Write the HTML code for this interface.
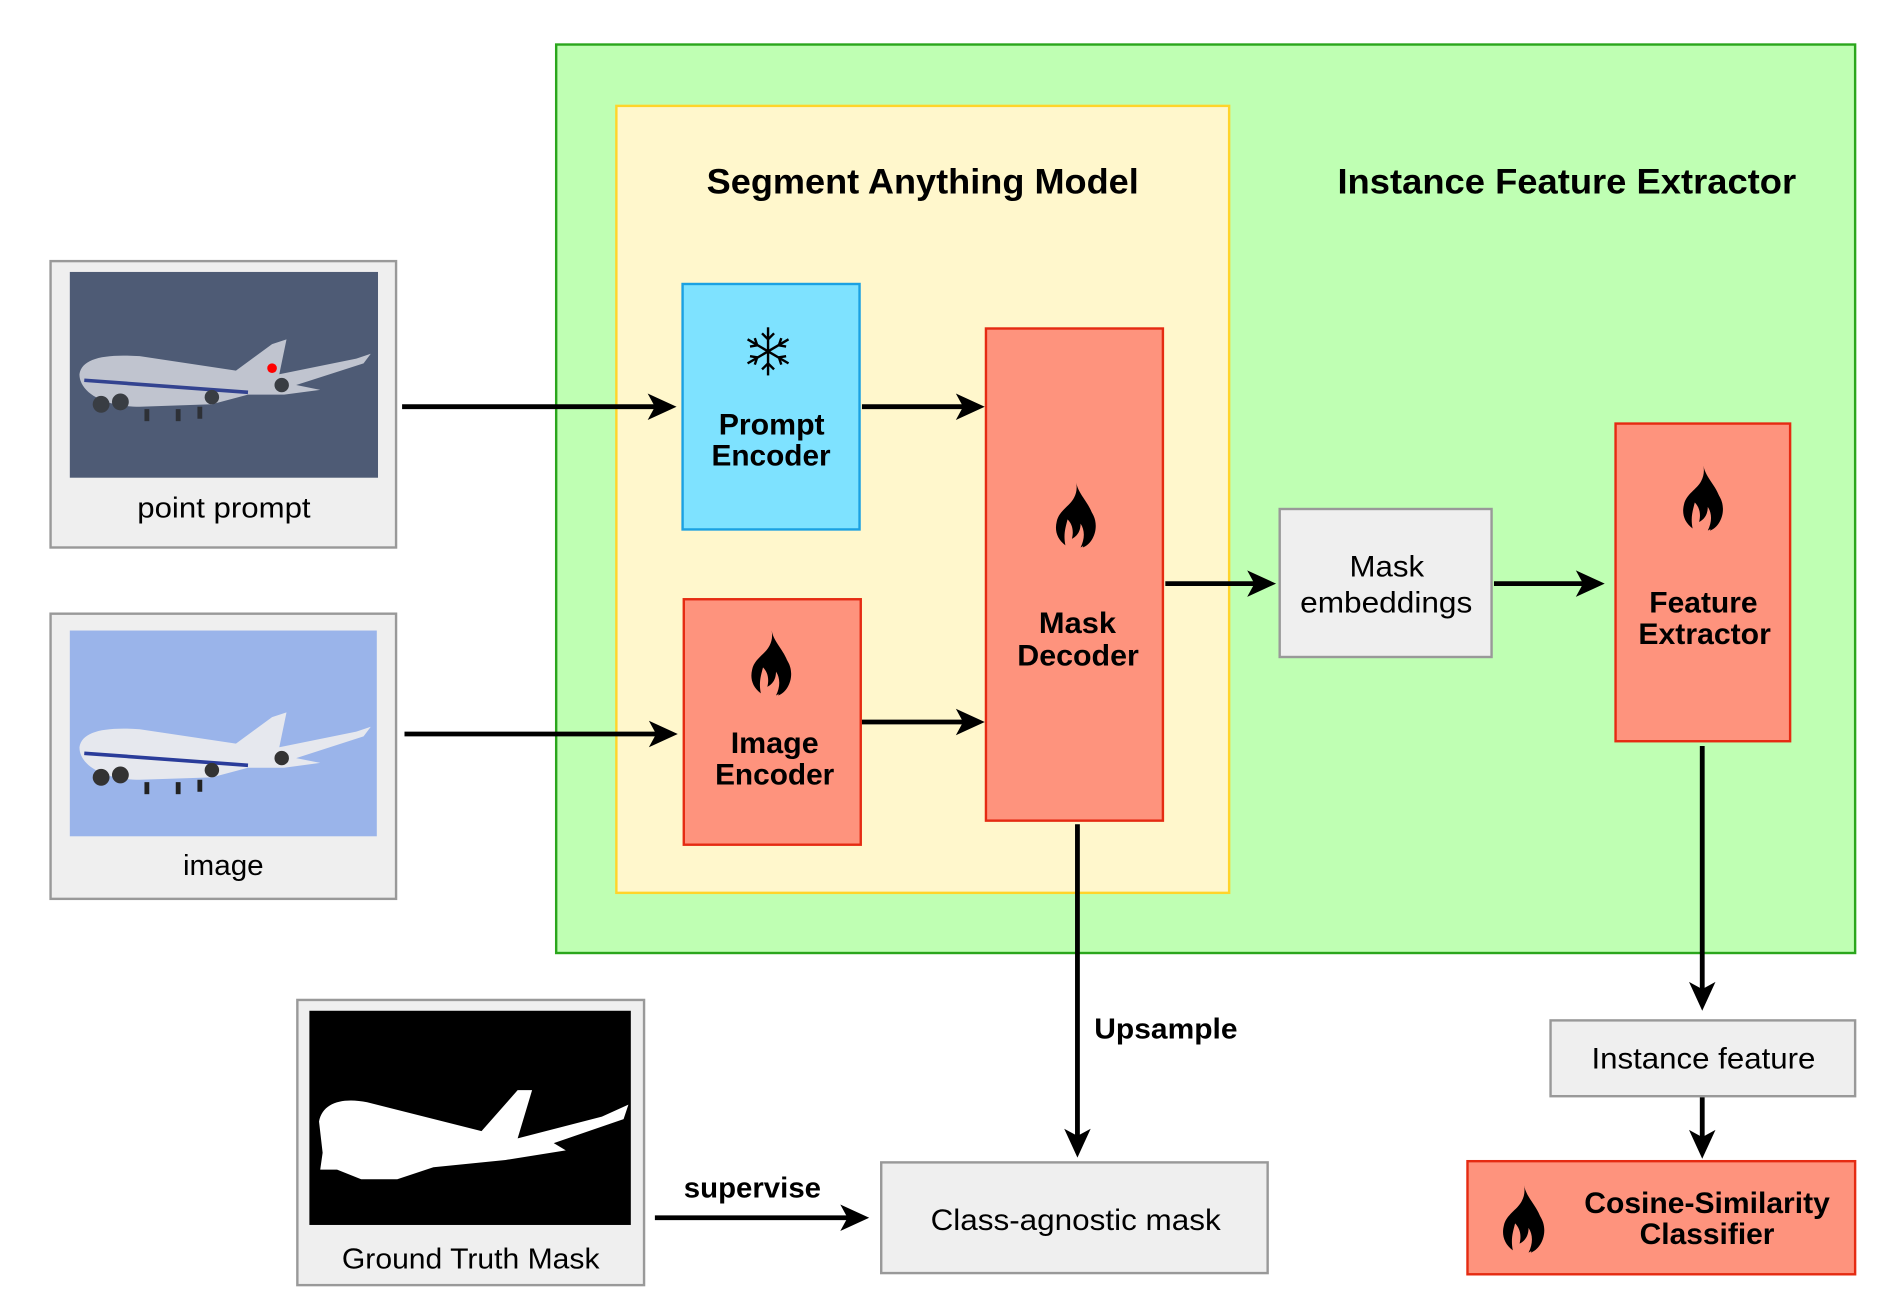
<!DOCTYPE html>
<html><head><meta charset="utf-8"><style>
html,body{margin:0;padding:0;background:#fff;width:1878px;height:1314px;overflow:hidden}
svg{display:block}
text{font-family:"Liberation Sans",Arial,sans-serif;fill:#000}
.b{font-weight:bold}
</style></head><body>
<svg width="1878" height="1314" viewBox="0 0 1560 1092" preserveAspectRatio="none" xmlns="http://www.w3.org/2000/svg">
<defs>
<symbol id="flame" viewBox="0 0 40 60">
<path d="M20 0 C22 12 34 20 36 34 C38 46 32 56 24 60 C28 52 28 44 24 38 C24 46 20 50 16 52 C18 44 16 38 12 34 C10 42 8 48 10 58 C2 52 0 44 2 36 C4 26 14 22 18 14 C20 10 21 6 20 0 Z" fill="#000"/>
<path d="M26 18 C32 24 38 30 38 40 C38 50 32 58 26 60 C30 50 30 40 26 30 Z" fill="#000"/>
</symbol>
<g id="plane">
<path d="M10 95 C12 82 30 78 60 80 L140 92 L170 70 L182 66 L176 95 L240 82 L252 78 L246 86 L190 104 L210 108 L180 112 L150 112 L120 120 L60 122 C30 122 10 110 10 95 Z" fill="#e6e8ee"/>
<path d="M14 100 L150 110" stroke="#2a3c9a" stroke-width="3"/>
<circle cx="28" cy="120" r="7" fill="#333"/><circle cx="44" cy="118" r="7" fill="#333"/>
<circle cx="120" cy="114" r="6" fill="#333"/><circle cx="178" cy="104" r="6" fill="#333"/>
<rect x="64" y="124" width="4" height="10" fill="#222"/><rect x="90" y="124" width="4" height="10" fill="#222"/><rect x="108" y="122" width="4" height="10" fill="#222"/>
</g>
</defs>

<rect x="462" y="37" width="1079" height="755" fill="#bfffb3" stroke="#2aa61c" stroke-width="2"/>
<rect x="512" y="88" width="509" height="654" fill="#fff7cc" stroke="#ffd42a" stroke-width="2"/>
<text class="b" x="587" y="161" font-size="29" textLength="359" lengthAdjust="spacingAndGlyphs">Segment Anything Model</text>
<text class="b" x="1111" y="161" font-size="29" textLength="381" lengthAdjust="spacingAndGlyphs">Instance Feature Extractor</text>

<rect x="42" y="217" width="287" height="238" fill="#efefef" stroke="#999" stroke-width="2"/>
<rect x="58" y="226" width="256" height="171" fill="#4e5b75"/>
<use href="#plane" x="56" y="216" opacity="0.75"/>
<circle cx="226" cy="306" r="4" fill="#f00"/>
<text x="114" y="430" font-size="24" textLength="144" lengthAdjust="spacingAndGlyphs">point prompt</text>

<rect x="42" y="510" width="287" height="237" fill="#efefef" stroke="#999" stroke-width="2"/>
<rect x="58" y="524" width="255" height="171" fill="#9ab4ea"/>
<use href="#plane" x="56" y="526"/>
<text x="152" y="727" font-size="24" textLength="67" lengthAdjust="spacingAndGlyphs">image</text>

<rect x="247" y="831" width="288" height="237" fill="#efefef" stroke="#999" stroke-width="2"/>
<rect x="257" y="840" width="267" height="178" fill="#000"/>
<path d="M265 932 C268 916 285 912 305 916 L400 940 L430 906 L442 906 L430 946 L500 928 L522 918 L518 930 L460 950 L470 956 L420 964 L360 970 L330 980 L300 980 L280 972 L266 972 L268 958 Z" fill="#fff"/>
<text x="284" y="1054" font-size="24" textLength="214" lengthAdjust="spacingAndGlyphs">Ground Truth Mask</text>

<rect x="567" y="236" width="147" height="204" fill="#7ee2ff" stroke="#1ba1e2" stroke-width="2"/>
<g stroke="#000" stroke-width="2" fill="none" transform="translate(638,292)">
<line x1="0" y1="-20" x2="0" y2="20"/><line x1="-17" y1="-10" x2="17" y2="10"/><line x1="-17" y1="10" x2="17" y2="-10"/>
<path d="M-5 -15 L0 -10 L5 -15 M-5 15 L0 10 L5 15"/>
<path d="M-15 -4 L-9 -5 L-11 -11 M15 4 L9 5 L11 11 M-15 4 L-9 5 L-11 11 M15 -4 L9 -5 L11 -11"/>
</g>
<text class="b" x="597" y="361" font-size="24.5" textLength="88" lengthAdjust="spacingAndGlyphs">Prompt</text>
<text class="b" x="591" y="387" font-size="24.5" textLength="99" lengthAdjust="spacingAndGlyphs">Encoder</text>

<rect x="568" y="498" width="147" height="204" fill="#fe937d" stroke="#e52b12" stroke-width="2"/>
<use href="#flame" x="619" y="524" width="44" height="54"/>
<text class="b" x="607" y="626" font-size="24.5" textLength="73" lengthAdjust="spacingAndGlyphs">Image</text>
<text class="b" x="594" y="652" font-size="24.5" textLength="99" lengthAdjust="spacingAndGlyphs">Encoder</text>

<rect x="819" y="273" width="147" height="409" fill="#fe937d" stroke="#e52b12" stroke-width="2"/>
<use href="#flame" x="872" y="401" width="44" height="54"/>
<text class="b" x="863" y="526" font-size="24.5" textLength="64" lengthAdjust="spacingAndGlyphs">Mask</text>
<text class="b" x="845" y="553" font-size="24.5" textLength="101" lengthAdjust="spacingAndGlyphs">Decoder</text>

<rect x="1063" y="423" width="176" height="123" fill="#efefef" stroke="#999" stroke-width="2"/>
<text x="1121" y="479" font-size="24.5" textLength="62" lengthAdjust="spacingAndGlyphs">Mask</text>
<text x="1080" y="509" font-size="24.5" textLength="143" lengthAdjust="spacingAndGlyphs">embeddings</text>

<rect x="1342" y="352" width="145" height="264" fill="#fe937d" stroke="#e52b12" stroke-width="2"/>
<use href="#flame" x="1393" y="387" width="44" height="54"/>
<text class="b" x="1370" y="509" font-size="24.5" textLength="90" lengthAdjust="spacingAndGlyphs">Feature</text>
<text class="b" x="1361" y="535" font-size="24.5" textLength="110" lengthAdjust="spacingAndGlyphs">Extractor</text>

<rect x="1288" y="848" width="253" height="63" fill="#efefef" stroke="#999" stroke-width="2"/>
<text x="1322" y="888" font-size="24.5" textLength="186" lengthAdjust="spacingAndGlyphs">Instance feature</text>

<rect x="1219" y="965" width="322" height="94" fill="#fe937d" stroke="#e52b12" stroke-width="2"/>
<use href="#flame" x="1243" y="985" width="46" height="56"/>
<text class="b" x="1316" y="1008" font-size="24.5" textLength="204" lengthAdjust="spacingAndGlyphs">Cosine-Similarity</text>
<text class="b" x="1362" y="1034" font-size="24.5" textLength="112" lengthAdjust="spacingAndGlyphs">Classifier</text>

<rect x="732" y="966" width="321" height="92" fill="#efefef" stroke="#999" stroke-width="2"/>
<text x="773" y="1022" font-size="24.5" textLength="241" lengthAdjust="spacingAndGlyphs">Class-agnostic mask</text>

<text class="b" x="909" y="863" font-size="24" textLength="119" lengthAdjust="spacingAndGlyphs">Upsample</text>
<text class="b" x="568" y="995" font-size="24" textLength="114" lengthAdjust="spacingAndGlyphs">supervise</text>

<g stroke="#000" stroke-width="4" fill="none">
<line x1="334" y1="338" x2="548" y2="338"/>
<line x1="716" y1="338" x2="804" y2="338"/>
<line x1="336" y1="610" x2="549" y2="610"/>
<line x1="716" y1="600" x2="804" y2="600"/>
<line x1="968" y1="485" x2="1046" y2="485"/>
<line x1="1241" y1="485" x2="1319" y2="485"/>
<line x1="895" y1="685" x2="895" y2="948"/>
<line x1="1414" y1="620" x2="1414" y2="826"/>
<line x1="1414" y1="912" x2="1414" y2="950"/>
<line x1="544" y1="1012" x2="708" y2="1012"/>
</g>
<g fill="#000">
<path d="M562 338 L538 327 L544 338 L538 349 Z"/>
<path d="M818 338 L794 327 L800 338 L794 349 Z"/>
<path d="M563 610 L539 599 L545 610 L539 621 Z"/>
<path d="M818 600 L794 589 L800 600 L794 611 Z"/>
<path d="M1060 485 L1036 474 L1042 485 L1036 496 Z"/>
<path d="M1333 485 L1309 474 L1315 485 L1309 496 Z"/>
<path d="M722 1012 L698 1001 L704 1012 L698 1023 Z"/>
<path d="M895 962 L884 938 L895 944 L906 938 Z"/>
<path d="M1414 840 L1403 816 L1414 822 L1425 816 Z"/>
<path d="M1414 963 L1403 939 L1414 945 L1425 939 Z"/>
</g>
</svg>
</body></html>
